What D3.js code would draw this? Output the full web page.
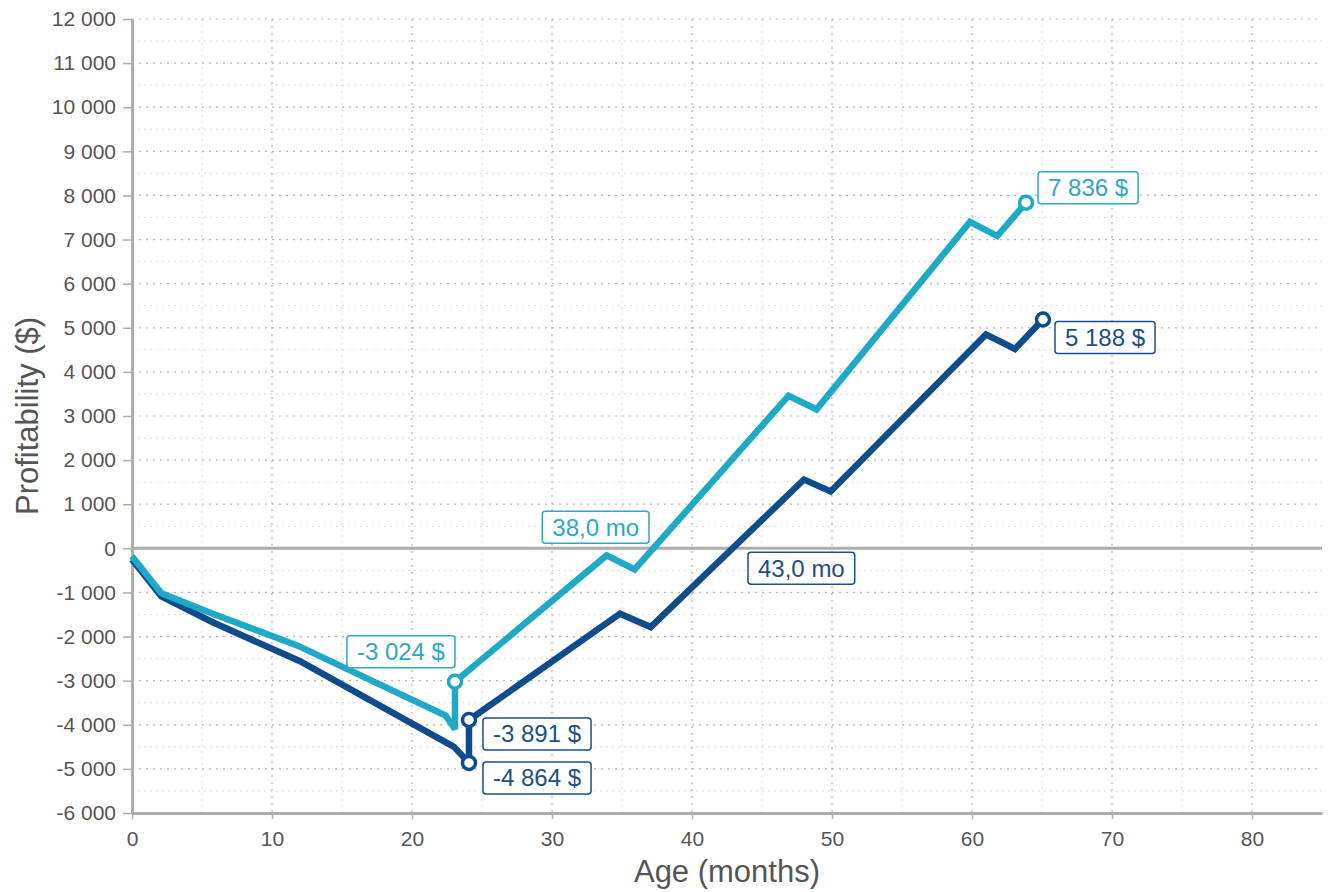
<!DOCTYPE html>
<html>
<head>
<meta charset="utf-8">
<script src="https://cdn.jsdelivr.net/npm/d3@7"></script>
<style>
  html, body { margin: 0; padding: 0; background: #fff; }
  svg { display: block; font-family: "Liberation Sans", Arial, Helvetica, sans-serif; }
</style>
</head>
<body>
<svg id="chart" width="1328" height="892"></svg>
<script>
// ---- data -------------------------------------------------------------
const xTicks = [0, 10, 20, 30, 40, 50, 60, 70, 80];
const yTicks = [-6000, -5000, -4000, -3000, -2000, -1000, 0, 1000, 2000, 3000, 4000, 5000,
                6000, 7000, 8000, 9000, 10000, 11000, 12000];

// light series: age (months) and cumulative profitability ($)
const lightMonths = [0, 2.1, 6.0, 11.8, 22.4, 23.07, 23.07, 33.9, 35.9, 46.9, 48.9, 59.85, 61.8, 63.86];
const lightValues = [-180, -1020, -1510, -2200, -3790, -4100, -3024, -160, -480, 3460, 3150, 7400, 7080, 7836];

// dark series
const darkMonths = [0, 2.1, 5.8, 12.0, 23.0, 24.07, 24.07, 34.86, 37.05, 48.0, 49.9, 61.0, 63.07, 65.07];
const darkValues = [-250, -1090, -1680, -2560, -4500, -4864, -3891, -1481, -1785, 1560, 1290, 4850, 4520, 5188];

// highlighted points
const lightMarkMonths = [23.07, 63.86];
const lightMarkValues = [-3024, 7836];
const darkMarkMonths = [24.07, 24.07, 65.07];
const darkMarkValues = [-4864, -3891, 5188];

// break-even ages (months)
const breakEvenLight = 38.0;
const breakEvenDark = 43.0;

// ---- setup ------------------------------------------------------------
const W = 1328, H = 892;
const margin = { top: 19, right: 6, bottom: 79, left: 132 };
const iw = W - margin.left - margin.right;
const ih = H - margin.top - margin.bottom;

const lightColor = "#1eaac6";
const darkColor = "#0f4c8c";
const lightText = "#2ea7c2";
const darkText = "#1c4e8b";
const axisGray = "#adadad";
const labelGray = "#555";

const loc = d3.formatLocale({ decimal: ",", thousands: " ", grouping: [3], currency: ["", ""], minus: "-" });
const fmtInt = loc.format(",d");
const fmtMo = loc.format(".1f");

const svg = d3.select("#chart");
const g = svg.append("g").attr("transform", `translate(${margin.left},${margin.top})`);

const x = d3.scaleLinear().domain([0, 85]).range([0, iw]);
const y = d3.scaleLinear().domain([-6000, 12000]).range([ih, 0]);

// ---- grid -------------------------------------------------------------
const grid = g.append("g");
const minorX = d3.range(5, 85, 10);
const minorY = d3.range(-5500, 12000, 1000);
grid.selectAll("line.mx").data(minorX).join("line")
  .attr("x1", d => x(d)).attr("x2", d => x(d)).attr("y1", 0).attr("y2", ih)
  .attr("stroke", "#d6d6d6").attr("stroke-width", 1).attr("stroke-dasharray", "2,4");
grid.selectAll("line.my").data(minorY).join("line")
  .attr("x1", 0).attr("x2", iw).attr("y1", d => y(d)).attr("y2", d => y(d))
  .attr("stroke", "#d6d6d6").attr("stroke-width", 1).attr("stroke-dasharray", "2,4");
grid.selectAll("line.gx").data(xTicks.filter(d => d > 0)).join("line")
  .attr("x1", d => x(d)).attr("x2", d => x(d)).attr("y1", 0).attr("y2", ih)
  .attr("stroke", "#b3b3b3").attr("stroke-width", 1.2).attr("stroke-dasharray", "2,5");
grid.selectAll("line.gy").data(yTicks.filter(d => d !== 0 && d !== -6000)).join("line")
  .attr("x1", 0).attr("x2", iw).attr("y1", d => y(d)).attr("y2", d => y(d))
  .attr("stroke", "#b3b3b3").attr("stroke-width", 1.2).attr("stroke-dasharray", "2,5");

// ---- axes -------------------------------------------------------------
const yAxis = g.append("g")
  .call(d3.axisLeft(y).tickValues(yTicks).tickFormat(fmtInt).tickSizeInner(9).tickSizeOuter(0).tickPadding(7));
const xAxis = g.append("g").attr("transform", `translate(0,${ih})`)
  .call(d3.axisBottom(x).tickValues(xTicks).tickFormat(d3.format("d")).tickSizeInner(6).tickSizeOuter(0).tickPadding(12));
[yAxis, xAxis].forEach(a => {
  a.select(".domain").attr("stroke", axisGray).attr("stroke-width", 3);
  a.selectAll(".tick line").attr("stroke", axisGray).attr("stroke-width", 1.5);
  a.selectAll(".tick text").attr("fill", labelGray).style("font-size", "21px")
    .style("font-family", "'Liberation Sans', Arial, sans-serif");
});

// zero line
g.append("line")
  .attr("x1", 0).attr("x2", iw).attr("y1", y(0)).attr("y2", y(0))
  .attr("stroke", axisGray).attr("stroke-width", 3);

// axis titles
svg.append("text")
  .attr("x", margin.left + iw / 2).attr("y", 882)
  .attr("text-anchor", "middle").attr("fill", labelGray)
  .style("font-size", "31px").text("Age (months)");
svg.append("text")
  .attr("transform", `translate(38,${margin.top + ih / 2}) rotate(-90)`)
  .attr("text-anchor", "middle").attr("fill", labelGray)
  .style("font-size", "31px").text("Profitability ($)");

// ---- lines ------------------------------------------------------------
const line = d3.line().x(d => x(d[0])).y(d => y(d[1]));
const darkPts = d3.zip(darkMonths, darkValues);
const lightPts = d3.zip(lightMonths, lightValues);

g.append("path").datum(darkPts).attr("d", line)
  .attr("fill", "none").attr("stroke", darkColor).attr("stroke-width", 6.5)
  .attr("stroke-linejoin", "miter").attr("stroke-miterlimit", 3);
g.append("path").datum(lightPts).attr("d", line)
  .attr("fill", "none").attr("stroke", lightColor).attr("stroke-width", 6.5)
  .attr("stroke-linejoin", "miter").attr("stroke-miterlimit", 3);

// markers
function markers(months, values, color) {
  g.append("g").selectAll("circle").data(d3.zip(months, values)).join("circle")
    .attr("cx", d => x(d[0])).attr("cy", d => y(d[1])).attr("r", 6.5)
    .attr("fill", "#fff").attr("stroke", color).attr("stroke-width", 3.5);
}
markers(darkMarkMonths, darkMarkValues, darkColor);
markers(lightMarkMonths, lightMarkValues, lightColor);

// ---- value labels ------------------------------------------------------
// place: "al" = above-left, "rt" = right (box top at point), "rb" = right (box bottom at point)
function tag(px, py, text, color, place, gap) {
  const grp = g.append("g");
  const t = grp.append("text").attr("fill", color).style("font-size", "24px").text(text);
  const tw = t.node().getComputedTextLength();
  const bw = tw + 20, bh = 32;
  let bx, by;
  if (place === "al") { bx = px - gap[0] - bw; by = py - gap[1] - bh; }
  else if (place === "rt") { bx = px + gap[0]; by = py + gap[1]; }
  else { bx = px + gap[0]; by = py - gap[1] - bh; }
  grp.insert("rect", "text")
    .attr("x", bx).attr("y", by).attr("width", bw).attr("height", bh)
    .attr("rx", 3).attr("ry", 3)
    .attr("fill", "#fff").attr("stroke", color).attr("stroke-width", 1.5);
  t.attr("x", bx + 10).attr("y", by + bh / 2).attr("dy", "0.35em");
}

tag(x(lightMarkMonths[0]), y(lightMarkValues[0]), fmtInt(lightMarkValues[0]) + " $", lightText, "al", [0, 14]);
tag(x(lightMarkMonths[1]), y(lightMarkValues[1]), fmtInt(lightMarkValues[1]) + " $", lightText, "rb", [12, -1]);
tag(x(darkMarkMonths[1]), y(darkMarkValues[1]), fmtInt(darkMarkValues[1]) + " $", darkText, "rt", [14, -2]);
tag(x(darkMarkMonths[0]), y(darkMarkValues[0]), fmtInt(darkMarkValues[0]) + " $", darkText, "rt", [14, -1]);
tag(x(darkMarkMonths[2]), y(darkMarkValues[2]), fmtInt(darkMarkValues[2]) + " $", darkText, "rt", [12, 2]);

tag(x(breakEvenLight), y(0), fmtMo(breakEvenLight) + " mo", lightText, "al", [15, 5]);
tag(x(breakEvenDark), y(0), fmtMo(breakEvenDark) + " mo", darkText, "rt", [14, 4]);
</script>
</body>
</html>
